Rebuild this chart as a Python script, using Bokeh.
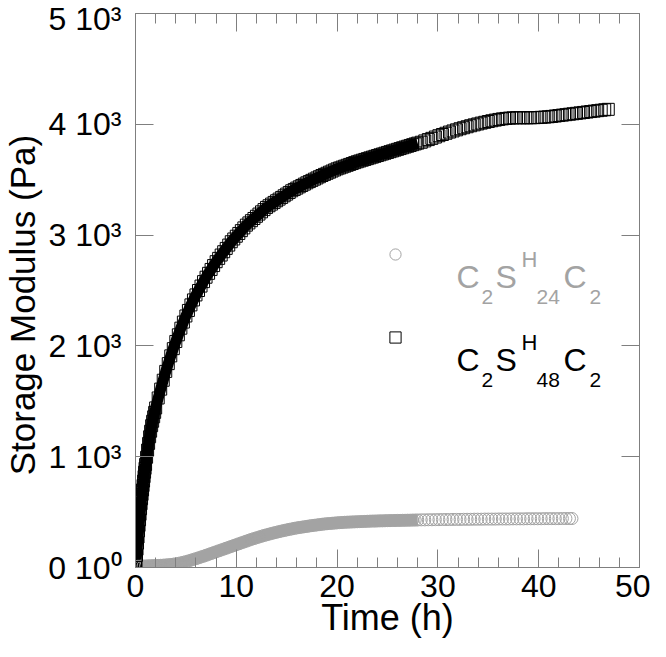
from bokeh.plotting import figure
from bokeh.models import Range1d, LinearAxis, SingleIntervalTicker, Label, Legend, LegendItem
from bokeh.embed import file_html
from bokeh.resources import INLINE

# ---------------- data ----------------
# C2SH48C2 : storage modulus (Pa) vs time (h)
t48 = [0.00, 0.05, 0.10, 0.15, 0.20, 0.25, 0.30, 0.35, 0.40, 0.45, 0.50, 0.55, 0.60,
       0.65, 0.70, 0.75, 0.80, 0.85, 0.90, 0.95, 1.00, 1.10, 1.20, 1.30, 1.40, 1.50,
       1.60, 1.70, 1.80, 1.90, 2.00, 2.25, 2.50, 2.75, 3.00, 3.25, 3.50, 3.75, 4.00,
       4.25, 4.50, 4.75, 5.00, 5.25, 5.50, 5.75, 6.00, 6.25, 6.50, 6.75, 7.00, 7.25,
       7.50, 7.75, 8.00, 8.25, 8.50, 8.75, 9.00, 9.25, 9.50, 9.75, 10.00, 10.25,
       10.50, 10.75, 11.00, 11.25, 11.50, 11.75, 12.00, 12.25, 12.50, 12.75, 13.00,
       13.25, 13.50, 13.75, 14.00, 14.25, 14.50, 14.75, 15.00, 15.25, 15.50, 15.75,
       16.00, 16.25, 16.50, 16.75, 17.00, 17.25, 17.50, 17.75, 18.00, 18.25, 18.50,
       18.75, 19.00, 19.25, 19.50, 19.75, 20.00, 20.25, 20.50, 20.75, 21.00, 21.25,
       21.50, 21.75, 22.00, 22.25, 22.50, 22.75, 23.00, 23.25, 23.50, 23.75, 24.00,
       24.25, 24.50, 24.75, 25.00, 25.25, 25.50, 25.75, 26.00, 26.25, 26.50, 26.75,
       27.00, 27.25, 27.50, 27.75, 28.00,
       28.35, 28.7, 29.05, 29.4, 29.75, 30.1, 30.45, 30.8, 31.15, 31.5, 31.85,
       32.2, 32.55, 32.9, 33.25, 33.6, 33.95, 34.3, 34.65, 35.0, 35.35, 35.7,
       36.05, 36.4, 36.75, 37.1, 37.45, 37.8, 38.15, 38.5, 38.85, 39.2, 39.55,
       39.9, 40.25, 40.6, 40.95, 41.3, 41.65, 42.0, 42.35, 42.7, 43.05, 43.4,
       43.75, 44.1, 44.45, 44.8, 45.15, 45.5, 45.85, 46.2, 46.55, 46.9]
g48 = [0, 55, 110, 165, 220, 275, 330, 380, 430, 480, 530, 575, 620,
       660, 700, 740, 780, 820, 860, 895, 930, 995, 1060, 1120, 1180, 1230,
       1280, 1320, 1360, 1400, 1440, 1530, 1610, 1690, 1770, 1840, 1910, 1975, 2040,
       2100, 2160, 2215, 2270, 2320, 2370, 2415, 2460, 2500, 2540, 2580, 2620, 2655,
       2690, 2725, 2760, 2790, 2820, 2850, 2880, 2910, 2940, 2965, 2990, 3015,
       3040, 3065, 3090, 3110, 3130, 3150, 3170, 3190, 3210, 3230, 3250,
       3265, 3280, 3295, 3310, 3325, 3340, 3355, 3370, 3385, 3400, 3412,
       3424, 3436, 3448, 3460, 3472, 3483, 3494, 3505, 3516, 3527, 3538,
       3548, 3558, 3568, 3578, 3588, 3598, 3606, 3614, 3622, 3630, 3638,
       3646, 3654, 3662, 3669, 3676, 3683, 3690, 3697, 3704, 3711, 3718,
       3725, 3732, 3739, 3746, 3753, 3760, 3767, 3774, 3781, 3788, 3795,
       3802, 3809, 3816, 3823, 3830,
       3838, 3850, 3862, 3873, 3885, 3897, 3908, 3919, 3930, 3940, 3950,
       3960, 3969, 3978, 3987, 3995, 4003, 4011, 4018, 4025, 4032, 4038,
       4044, 4049, 4053, 4056, 4058, 4059, 4059, 4059, 4059, 4059, 4060,
       4061, 4063, 4065, 4068, 4071, 4075, 4079, 4083, 4087, 4091, 4095,
       4099, 4103, 4107, 4111, 4115, 4119, 4123, 4127, 4131, 4135]

# C2SH24C2 : storage modulus (Pa) vs time (h)
t24 = [0, 0.25, 0.5, 0.75, 1, 1.25, 1.5, 1.75, 2, 2.25, 2.5, 2.75, 3, 3.25, 3.5,
       3.75, 4, 4.25, 4.5, 4.75, 5, 5.25, 5.5, 5.75, 6, 6.25, 6.5, 6.75, 7, 7.25,
       7.5, 7.75, 8, 8.25, 8.5, 8.75, 9, 9.25, 9.5, 9.75, 10, 10.25, 10.5, 10.75,
       11, 11.25, 11.5, 11.75, 12, 12.25, 12.5, 12.75, 13, 13.25, 13.5, 13.75, 14,
       14.25, 14.5, 14.75, 15, 15.25, 15.5, 15.75, 16, 16.25, 16.5, 16.75, 17,
       17.25, 17.5, 17.75, 18, 18.25, 18.5, 18.75, 19, 19.25, 19.5, 19.75, 20,
       20.25, 20.5, 20.75, 21, 21.25, 21.5, 21.75, 22, 22.25, 22.5, 22.75, 23,
       23.25, 23.5, 23.75, 24, 24.25, 24.5, 24.75, 25, 25.25, 25.5, 25.75, 26,
       26.25, 26.5, 26.75, 27, 27.25, 27.5, 27.75, 28,
       28.35, 28.7, 29.05, 29.4, 29.75, 30.1, 30.45, 30.8, 31.15, 31.5, 31.85,
       32.2, 32.55, 32.9, 33.25, 33.6, 33.95, 34.3, 34.65, 35.0, 35.35, 35.7,
       36.05, 36.4, 36.75, 37.1, 37.45, 37.8, 38.15, 38.5, 38.85, 39.2, 39.55,
       39.9, 40.25, 40.6, 40.95, 41.3, 41.65, 42.0, 42.35, 42.7, 43.05, 43.3]
g24 = [10, 11, 12, 13, 14, 15, 16, 17, 18, 19, 20, 21, 23, 25, 27,
       30, 33, 37, 42, 47, 53, 59, 66, 73, 80, 87, 95, 102, 110, 118,
       126, 134, 142, 150, 158, 166, 174, 182, 190, 198, 206, 214, 222, 230,
       238, 246, 254, 261, 268, 275, 282, 289, 295, 301, 307, 313, 318,
       324, 329, 334, 339, 344, 348, 353, 357, 361, 364, 368, 371,
       375, 378, 381, 384, 387, 390, 393, 395, 397, 399, 401, 403,
       405, 406, 408, 409, 410, 411, 412, 413, 414, 415, 416, 417,
       418, 419, 419, 420, 421, 421, 422, 423, 423, 424, 424, 425,
       425, 426, 426, 427, 427, 428, 428, 429,
       430, 430, 431, 431, 432, 432, 433, 433, 433, 434, 434,
       434, 435, 435, 435, 436, 436, 436, 437, 437, 437, 437,
       438, 438, 438, 438, 439, 439, 439, 439, 440, 440, 440,
       440, 440, 441, 441, 441, 441, 441, 442, 442, 442, 442]

DENSE_END = 28.0   # before this time the markers overlap into a solid band

y_ticks = [0, 1000, 2000, 3000, 4000, 5000]
y_tick_labels = ["0 10\u2070", "1 10\u00b3", "2 10\u00b3", "3 10\u00b3", "4 10\u00b3", "5 10\u00b3"]

FONT = "Liberation Sans"
GRAY = "#7f7f7f"
C24 = "#a3a3a3"
C48 = "#000000"

p = figure(width=650, height=640, x_range=Range1d(0, 50), y_range=Range1d(0, 5000),
           output_backend="svg", toolbar_location=None,
           min_border_left=132, min_border_right=11, min_border_top=13, min_border_bottom=72)
p.grid.visible = False
p.outline_line_color = None
p.background_fill_color = "white"
p.border_fill_color = "white"

# dense (overlapping) part of each series rendered as a band of the marker colour
n24 = t24.index(DENSE_END) + 1
n48 = t48.index(DENSE_END) + 1
p.line(t24[:n24], g24[:n24], line_width=11, line_color=C24, line_join="round")
p.line(t48[:n48], g48[:n48], line_width=11, line_color=C48, line_join="round")

r24 = p.scatter(t24, g24, marker="circle", size=12, fill_color=None, line_color=C24, line_width=1)
r48 = p.scatter(t48, g48, marker="square", size=12, fill_color=None, line_color=C48, line_width=1)


def style_axis(ax, ticker, minor=True):
    ax.ticker = ticker
    ax.axis_line_color = GRAY
    ax.major_tick_line_color = GRAY
    ax.minor_tick_line_color = GRAY if minor else None
    ax.major_tick_in = 18
    ax.major_tick_out = 0
    ax.minor_tick_in = 10
    ax.minor_tick_out = 0


xa = p.xaxis[0]
style_axis(xa, SingleIntervalTicker(interval=10, num_minor_ticks=5))
xa.major_label_text_font = FONT
xa.major_label_text_font_size = "32px"
xa.major_label_text_color = "black"
xa.major_label_standoff = 7
xa.axis_label = "Time (h)"
xa.axis_label_text_font = FONT
xa.axis_label_text_font_size = "36px"
xa.axis_label_text_font_style = "normal"
xa.axis_label_text_color = "black"
xa.axis_label_standoff = -3

ya = p.yaxis[0]
style_axis(ya, SingleIntervalTicker(interval=1000, num_minor_ticks=0), minor=False)
ya.major_label_overrides = {v: s for v, s in zip(y_ticks, y_tick_labels)}
ya.major_label_text_font = FONT
ya.major_label_text_font_size = "32px"
ya.major_label_text_color = "black"
ya.major_label_standoff = 14
# trailing no-break spaces shift the (upward-reading) title down, as in the reference
ya.axis_label = "Storage Modulus (Pa)" + "\u00a0" * 3
ya.axis_label_text_font = FONT
ya.axis_label_text_font_size = "35px"
ya.axis_label_text_font_style = "normal"
ya.axis_label_text_color = "black"
ya.axis_label_standoff = 3

top = LinearAxis()
style_axis(top, SingleIntervalTicker(interval=10, num_minor_ticks=5))
top.major_label_text_font_size = "1px"
top.major_label_text_color = None
top.major_label_standoff = 0
p.add_layout(top, "above")

right = LinearAxis()
style_axis(right, SingleIntervalTicker(interval=1000, num_minor_ticks=0), minor=False)
right.major_label_text_font_size = "1px"
right.major_label_text_color = None
right.major_label_standoff = 0
p.add_layout(right, "right")

# legend markers (texts are drawn separately below, with sub/superscripts)
legend = Legend(items=[LegendItem(label=" ", renderers=[r24]),
                       LegendItem(label=" ", renderers=[r48])],
                location=(246, 216), glyph_width=28, glyph_height=28, spacing=55,
                padding=0, margin=0, border_line_color=None, background_fill_alpha=0,
                label_text_font_size="1px", label_text_color=None,
                label_standoff=0, label_height=28)
p.add_layout(legend)


def legend_text(base, color, number):
    pieces = [("C", 321, 0, "32px"), ("2", 346, -20, "21px"), ("S", 360, 0, "32px"),
              ("H", 386, 17, "22px"), (number, 401, -20, "21px"), ("C", 428, 0, "32px"),
              ("2", 454, -20, "21px")]
    for txt, x, dy, fs in pieces:
        p.add_layout(Label(x=x, y=base + dy, x_units="screen", y_units="screen", text=txt,
                           text_align="left", text_baseline="alphabetic",
                           text_font=FONT, text_font_size=fs, text_color=color))


legend_text(291, C24, "24")
legend_text(208, C48, "48")

open("out.html", "w").write(file_html(p, INLINE))
